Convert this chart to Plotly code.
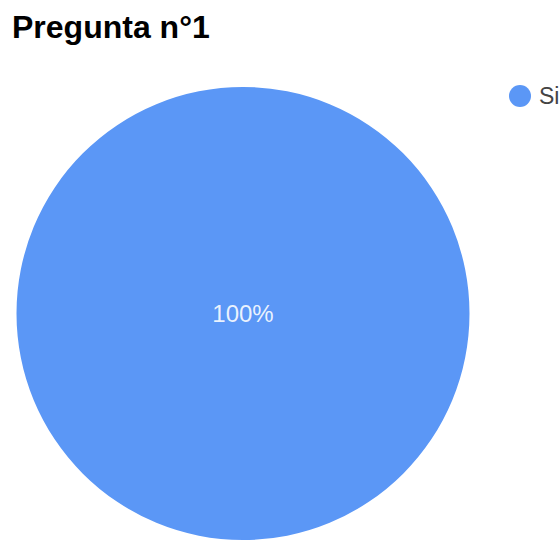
import plotly.graph_objects as go

title_text = "Pregunta n°1"
labels = ["Si"]
values = [100]
colors = ["#5B97F6"]

W, H = 559, 540

fig = go.Figure()
fig.add_trace(go.Pie(
    labels=labels,
    values=values,
    marker=dict(colors=colors, line=dict(width=0)),
    textinfo="percent",
    textposition="inside",
    insidetextfont=dict(family="Liberation Sans, Arial", size=24, color="rgba(255,255,255,0.88)"),
    sort=False,
    showlegend=False,
    hoverinfo="label+percent",
    domain=dict(x=[16 / W, 470 / W], y=[0, (H - 87) / H]),
))

# custom legend (circle marker + label)
cx, cy, r = 520, 96, 11
for i, lab in enumerate(labels):
    fig.add_shape(type="circle", xref="paper", yref="paper",
                  x0=(cx - r) / W, x1=(cx + r) / W,
                  y0=(H - cy - r) / H, y1=(H - cy + r) / H,
                  fillcolor=colors[i], line=dict(width=0))
    fig.add_annotation(text=lab, xref="paper", yref="paper",
                       x=537 / W, y=(H - cy) / H, xanchor="left", yanchor="middle",
                       showarrow=False,
                       font=dict(family="Liberation Sans, Arial", size=23, color="#444444"))

fig.update_layout(
    width=W, height=H,
    margin=dict(l=0, r=0, t=0, b=0),
    paper_bgcolor="white",
    plot_bgcolor="white",
    title=dict(text="<b>" + title_text + "</b>", x=12 / W, xanchor="left", xref="paper",
               y=(H - 27) / H, yanchor="middle", yref="paper",
               font=dict(family="Liberation Sans, Arial", size=32, color="#000000")),
)

fig.write_html("out.html")
